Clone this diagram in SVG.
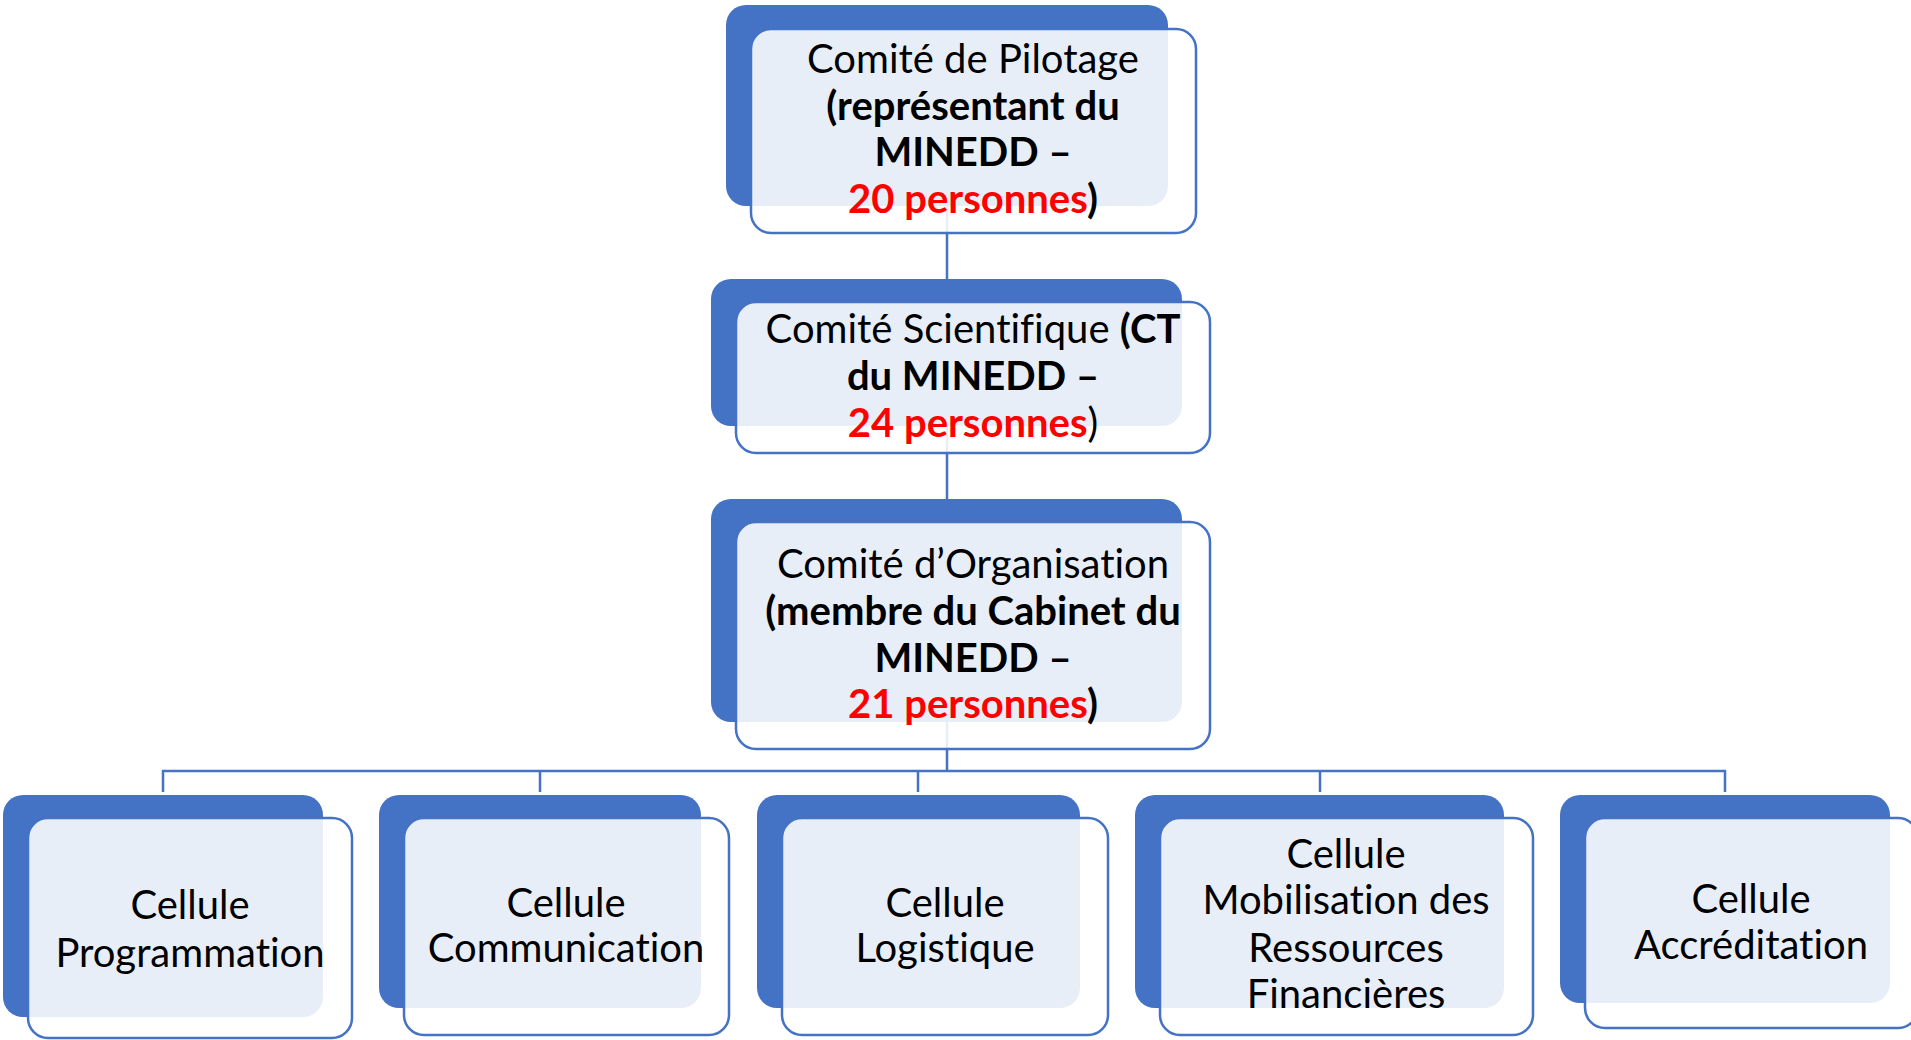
<svg xmlns="http://www.w3.org/2000/svg" width="1911" height="1040" viewBox="0 0 1911 1040">
<style>
.back{fill:#4472C4;}
.front{fill:#FFFFFF;fill-opacity:0.88;stroke:#4472C4;stroke-width:2.5;}
.conn{stroke:#4472C4;stroke-width:2.5;fill:none;}
text{font-family:Lato,"Open Sans",sans-serif;font-size:40px;fill:#000;text-anchor:middle;font-variant-ligatures:none;}
.b{font-weight:bold;}
.red{fill:#FF0000;font-weight:bold;}
</style>
<rect width="1911" height="1040" fill="#FFFFFF"/>
<g id="connectors">
<line class="conn" x1="947" y1="200" x2="947" y2="285"/>
<line class="conn" x1="947" y1="420" x2="947" y2="505"/>
<line class="conn" x1="947" y1="700" x2="947" y2="771"/>
<polyline class="conn" points="163,792 163,771 1725,771 1725,792"/>
<line class="conn" x1="540" y1="771" x2="540" y2="792"/>
<line class="conn" x1="918" y1="771" x2="918" y2="792"/>
<line class="conn" x1="1320" y1="771" x2="1320" y2="792"/>
</g>
<g id="node-pilotage">
<rect class="back" x="726" y="5" width="442" height="201" rx="20"/>
<rect class="front" x="751" y="29" width="445" height="204" rx="20"/>
<text x="973" y="73">Comité de Pilotage</text>
<text x="973" y="120" class="b">(représentant du</text>
<text x="973" y="166" class="b">MINEDD –</text>
<text x="973" y="213"><tspan class="red">20 personnes</tspan><tspan class="b">)</tspan></text>
</g>
<g id="node-scientifique">
<rect class="back" x="711" y="279" width="471" height="147" rx="20"/>
<rect class="front" x="736" y="302" width="474" height="151" rx="20"/>
<text x="973" y="343">Comité Scientifique <tspan class="b">(CT</tspan></text>
<text x="973" y="390" class="b">du MINEDD –</text>
<text x="973" y="437"><tspan class="red">24 personnes</tspan>)</text>
</g>
<g id="node-organisation">
<rect class="back" x="711" y="499" width="471" height="223" rx="20"/>
<rect class="front" x="736" y="522" width="474" height="227" rx="20"/>
<text x="973" y="578">Comité d’Organisation</text>
<text x="973" y="625" class="b">(membre du Cabinet du</text>
<text x="973" y="672" class="b">MINEDD –</text>
<text x="973" y="718"><tspan class="red">21 personnes</tspan><tspan class="b">)</tspan></text>
</g>
<g id="node-programmation">
<rect class="back" x="3" y="795" width="320" height="222" rx="20"/>
<rect class="front" x="28" y="818" width="324" height="220" rx="20"/>
<text x="190" y="919">Cellule</text>
<text x="190" y="967">Programmation</text>
</g>
<g id="node-communication">
<rect class="back" x="379" y="795" width="322" height="213" rx="20"/>
<rect class="front" x="404" y="818" width="325" height="217" rx="20"/>
<text x="566" y="917">Cellule</text>
<text x="566" y="962">Communication</text>
</g>
<g id="node-logistique">
<rect class="back" x="757" y="795" width="323" height="213" rx="20"/>
<rect class="front" x="782" y="818" width="326" height="217" rx="20"/>
<text x="945" y="917">Cellule</text>
<text x="945" y="962">Logistique</text>
</g>
<g id="node-mobilisation">
<rect class="back" x="1135" y="795" width="369" height="213" rx="20"/>
<rect class="front" x="1160" y="818" width="373" height="217" rx="20"/>
<text x="1346" y="868">Cellule</text>
<text x="1346" y="914">Mobilisation des</text>
<text x="1346" y="962">Ressources</text>
<text x="1346" y="1008">Financières</text>
</g>
<g id="node-accreditation">
<rect class="back" x="1560" y="795" width="330" height="208" rx="20"/>
<rect class="front" x="1585" y="818" width="333" height="210" rx="20"/>
<text x="1751" y="913">Cellule</text>
<text x="1751" y="959">Accréditation</text>
</g>
</svg>
